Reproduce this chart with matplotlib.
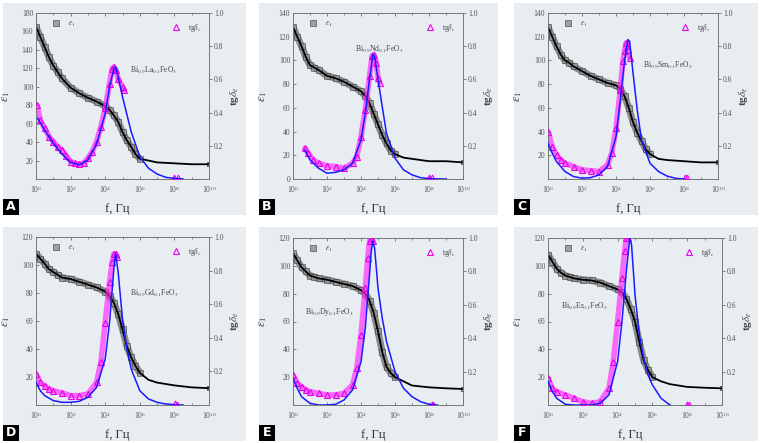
import numpy as np
import matplotlib.pyplot as plt
from matplotlib.patches import Rectangle
from matplotlib.lines import Line2D

plt.rcParams['font.family'] = ['Liberation Serif', 'DejaVu Serif']
plt.rcParams['mathtext.fontset'] = 'stix'

# ---------------- data (log10 of frequency, Hz) ----------------
LOGF_EPS = [0, 0.25, 0.5, 0.75, 1, 1.25, 1.5, 2, 2.5, 3, 3.5, 4, 4.25, 4.5,
            4.75, 5, 5.25, 5.5, 5.75, 6, 6.5, 7, 8, 9, 10]

EPS_A = [165, 154, 143, 132, 123, 116, 109, 99, 93, 88, 84, 79, 75, 69,
         62, 51, 42, 35, 27, 22, 20, 18, 17, 16, 16]
EPS_B = [128, 120, 112, 103, 96, 94, 92, 87, 85, 82, 78, 74, 70, 64,
         55, 46, 37, 30, 24, 21, 18, 17, 15, 15, 14]
EPS_C = [128, 120, 112, 105, 100, 98, 95, 91, 87, 84, 81, 79, 76, 70,
         60, 48, 39, 32, 25, 21, 17, 16, 15, 14, 14]
EPS_D = [108, 104.5, 101, 97, 95, 93, 91, 90, 88, 86, 84, 81, 78, 73,
         65, 54, 42, 34, 28, 23, 18, 16, 14, 12.6, 12]
EPS_E = [109, 104, 99, 96, 93, 92, 91, 90, 88.5, 87, 85.5, 82.5, 80, 75,
         66, 53, 38, 27.5, 23, 20, 17, 14, 12.7, 12, 11.5]
EPS_F = [108, 103, 98, 95, 93, 92, 91, 90, 89.5, 88, 85.5, 83, 81, 76.5,
         69, 60, 45, 32, 25, 20, 17, 15, 13, 12.4, 12]

# measured tg(delta)
TG_LOGF_A = [0.05, 0.25, 0.5, 0.75, 1, 1.25, 1.5, 1.75, 2, 2.25, 2.5, 2.75, 3,
             3.25, 3.5, 3.75, 4, 4.25, 4.4, 4.5, 4.6, 4.75, 5, 5.1]
TG_A = [0.445, 0.355, 0.305, 0.255, 0.225, 0.195, 0.175, 0.14, 0.105, 0.095,
        0.09, 0.095, 0.125, 0.165, 0.225, 0.315, 0.425, 0.575, 0.665, 0.675,
        0.655, 0.605, 0.555, 0.535]
TG_LOGF_B = [0.7, 0.9, 1.2, 1.5, 2, 2.5, 3, 3.5, 3.75, 4, 4.25, 4.5, 4.65,
             4.75, 4.9, 5, 5.1]
TG_B = [0.185, 0.155, 0.115, 0.095, 0.08, 0.075, 0.065, 0.095, 0.135, 0.255,
        0.415, 0.62, 0.74, 0.75, 0.7, 0.61, 0.58]
TG_LOGF_C = [0, 0.25, 0.5, 0.75, 1, 1.5, 2, 2.5, 3, 3.5, 3.75, 4, 4.25, 4.4,
             4.5, 4.6, 4.7, 4.8]
TG_C = [0.285, 0.195, 0.145, 0.115, 0.095, 0.075, 0.055, 0.05, 0.045, 0.085,
        0.155, 0.305, 0.535, 0.71, 0.77, 0.82, 0.78, 0.73]
TG_LOGF_D = [0, 0.25, 0.5, 0.75, 1, 1.5, 2, 2.5, 3, 3.5, 3.75, 4, 4.25, 4.4,
             4.5, 4.6, 4.7]
TG_D = [0.185, 0.135, 0.115, 0.095, 0.085, 0.072, 0.056, 0.056, 0.066, 0.135,
        0.255, 0.49, 0.73, 0.85, 0.9, 0.9, 0.88]
TG_LOGF_E = [0, 0.25, 0.5, 0.75, 1, 1.5, 2, 2.5, 3, 3.5, 3.75, 4, 4.25, 4.4,
             4.5, 4.6, 4.7]
TG_E = [0.18, 0.13, 0.11, 0.09, 0.08, 0.07, 0.06, 0.06, 0.07, 0.12, 0.22,
        0.42, 0.70, 0.88, 0.98, 1.0, 0.98]
TG_LOGF_F = [0, 0.25, 0.5, 1, 1.5, 2, 2.5, 3, 3.5, 3.75, 4, 4.25, 4.4, 4.5, 4.6]
TG_F = [0.16, 0.1, 0.08, 0.06, 0.04, 0.02, 0.01, 0.02, 0.1, 0.26, 0.5, 0.76,
        0.92, 1.0, 1.0]

# stray high-frequency tg(delta) points
TAIL_LOGF = {'A': [8.0, 8.2], 'B': [8.0, 8.15], 'C': [8.05, 8.15],
             'D': [8.05, 8.15], 'E': [8.15, 8.25], 'F': [8.0, 8.1]}
TAIL_TG = {'A': [0.014, 0.012], 'B': [0.015, 0.012], 'C': [0.015, 0.01],
           'D': [0.01, 0.008], 'E': [0.004, 0.003], 'F': [0.004, 0.003]}

# fitted tg(delta) (blue line)
FIT_LOGF_A = [0.1, 0.5, 1, 1.5, 2, 2.5, 3, 3.5, 4, 4.25, 4.5, 4.6, 4.75, 5,
              5.5, 6, 6.5, 7, 7.5, 8, 8.5]
FIT_A = [0.365, 0.295, 0.215, 0.15, 0.1, 0.085, 0.115, 0.21, 0.395, 0.555,
         0.665, 0.675, 0.615, 0.495, 0.285, 0.135, 0.065, 0.03, 0.01, 0.004, 0]
FIT_LOGF_B = [0.7, 1, 1.5, 2, 2.5, 3, 3.5, 4, 4.25, 4.5, 4.7, 4.8, 5, 5.25,
              5.5, 6, 6.5, 7, 7.5, 8, 9]
FIT_B = [0.175, 0.115, 0.065, 0.035, 0.04, 0.055, 0.095, 0.235, 0.395, 0.6,
         0.75, 0.74, 0.6, 0.435, 0.275, 0.125, 0.055, 0.025, 0.008, 0.002, 0]
FIT_LOGF_C = [0, 0.25, 0.5, 1, 1.5, 2, 2.5, 3, 3.5, 4, 4.25, 4.5, 4.7, 4.8,
              5, 5.25, 5.5, 6, 6.5, 7, 7.5, 8]
FIT_C = [0.215, 0.155, 0.105, 0.045, 0.015, 0.005, 0.008, 0.025, 0.075,
         0.255, 0.475, 0.71, 0.84, 0.83, 0.64, 0.415, 0.235, 0.095, 0.045,
         0.018, 0.004, 0]
FIT_LOGF_D = [0, 0.25, 0.5, 1, 1.5, 2, 2.5, 3, 3.5, 4, 4.25, 4.5, 4.6, 4.75,
              5, 5.25, 5.5, 6, 6.5, 7, 7.5, 8, 8.5]
FIT_D = [0.135, 0.085, 0.056, 0.026, 0.016, 0.016, 0.022, 0.046, 0.105,
         0.275, 0.49, 0.81, 0.9, 0.79, 0.51, 0.335, 0.215, 0.085, 0.036,
         0.016, 0.006, 0.002, 0]
FIT_LOGF_E = [0, 0.25, 0.5, 1, 1.5, 2, 2.5, 3, 3.5, 4, 4.25, 4.5, 4.6, 4.7,
              4.8, 5, 5.25, 5.5, 6, 6.5, 7, 7.5, 8, 8.5]
FIT_E = [0.16, 0.1, 0.05, 0.01, 0, 0, 0.004, 0.03, 0.09, 0.26, 0.46, 0.78,
         0.92, 0.98, 0.94, 0.7, 0.52, 0.38, 0.2, 0.1, 0.05, 0.02, 0.004, 0]
FIT_LOGF_F = [0, 0.25, 0.5, 1, 1.5, 2.5, 3, 3.5, 4, 4.25, 4.5, 4.7, 4.8, 5,
              5.25, 5.5, 5.75, 6, 6.5, 7]
FIT_F = [0.14, 0.08, 0.04, 0.004, 0, 0, 0.01, 0.06, 0.26, 0.5, 0.8, 1.0, 0.96,
         0.66, 0.42, 0.28, 0.18, 0.12, 0.04, 0]

LETTERS = ['A', 'B', 'C', 'D', 'E', 'F']
SAMPLES = [r'Bi$_{0.9}$La$_{0.1}$FeO$_3$', r'Bi$_{0.9}$Nd$_{0.1}$FeO$_3$',
           r'Bi$_{0.9}$Sm$_{0.1}$FeO$_3$', r'Bi$_{0.9}$Gd$_{0.1}$FeO$_3$',
           r'Bi$_{0.9}$Dy$_{0.1}$FeO$_3$', r'Bi$_{0.9}$Er$_{0.1}$FeO$_3$']
EPS_MAX = [180, 140, 140, 120, 120, 120]
EPS_TICK_START = [20, 0, 20, 20, 20, 20]

# ---------------- layout (pixels) ----------------
W, H = 761, 443
BG = '#e8edf2'
PANEL_PX = [(3, 3, 246, 215), (259, 3, 498, 215), (514, 3, 758, 215),
            (3, 227, 246, 441), (259, 227, 498, 441), (514, 227, 758, 441)]
AXES_PX = [(36, 13, 209, 179), (293, 13, 463, 179), (548, 13, 718, 179),
           (36, 237, 209, 405), (293, 238, 463, 405), (548, 238, 722, 405)]
# sample label anchor: (log f, eps, ha)
SAMPLE_POS = [(5.42, 118, 'left'), (5.1, 109, 'center'), (5.6, 96, 'left'),
              (5.45, 80, 'left'), (0.7, 67, 'left'), (0.73, 71, 'left')]


def px_rect(l, t, r, b):
    return [l / W, 1 - b / H, (r - l) / W, (b - t) / H]


eps_all = [EPS_A, EPS_B, EPS_C, EPS_D, EPS_E, EPS_F]
tg_all = [(TG_LOGF_A, TG_A), (TG_LOGF_B, TG_B), (TG_LOGF_C, TG_C),
          (TG_LOGF_D, TG_D), (TG_LOGF_E, TG_E), (TG_LOGF_F, TG_F)]
fit_all = [(FIT_LOGF_A, FIT_A), (FIT_LOGF_B, FIT_B), (FIT_LOGF_C, FIT_C),
           (FIT_LOGF_D, FIT_D), (FIT_LOGF_E, FIT_E), (FIT_LOGF_F, FIT_F)]

fig = plt.figure(figsize=(W / 100, H / 100), dpi=100)
fig.patch.set_facecolor('white')

tick_col = '#555555'
f_eps = 10.0 ** np.array(LOGF_EPS)

for i, letter in enumerate(LETTERS):
    l, t, r, b = PANEL_PX[i]
    fig.patches.append(Rectangle((l / W, 1 - b / H), (r - l) / W, (b - t) / H,
                                 transform=fig.transFigure, facecolor=BG,
                                 edgecolor='none', zorder=-5))
    # letter box
    fig.patches.append(Rectangle((l / W, 1 - b / H), 16 / W, 16 / H,
                                 transform=fig.transFigure, facecolor='black',
                                 edgecolor='none', zorder=5))
    fig.text((l + 8) / W, 1 - (b - 8) / H, letter, color='white',
             fontsize=9, fontweight='bold', family='DejaVu Sans',
             ha='center', va='center', zorder=6)

    ax = fig.add_axes(px_rect(*AXES_PX[i]))
    ax.set_facecolor(BG)
    ax2 = ax.twinx()

    eps = np.array(eps_all[i])
    dense = np.array(LOGF_EPS) <= 6.25
    ax.plot(f_eps[dense], eps[dense], color='#4a4a4a', lw=5, alpha=0.6,
            solid_capstyle='round', zorder=2)
    ax.plot(f_eps[dense], eps[dense], 's', ms=3.8, mfc='#9a9a9a', mec='#2a2a2a',
            mew=0.5, alpha=0.7, zorder=3)
    ax.plot(f_eps[-1:], eps[-1:], 's', ms=3.5, mfc='#a0a0a0', mec='#333333',
            mew=0.5, zorder=3)
    ax.plot(f_eps, eps, color='black', lw=1.3, zorder=4)

    tl, tv = tg_all[i]
    ft = 10.0 ** np.array(tl)
    ax2.plot(ft, tv, color='#ff22ff', lw=4, alpha=0.65,
             solid_capstyle='round', zorder=2)
    ax2.plot(ft, tv, '^', ms=4, mfc='none', mec='#e600e6', mew=0.8, zorder=3)
    ax2.plot(10.0 ** np.array(TAIL_LOGF[letter]), TAIL_TG[letter], '^', ms=3.5,
             mfc='none', mec='#ee00ee', mew=0.8, zorder=3)
    fl, fv = fit_all[i]
    ax2.plot(10.0 ** np.array(fl), fv, color='#1a1aff', lw=1.1, zorder=4)

    ax.set_xscale('log')
    ax.set_xlim(1, 1e10)
    ax.set_ylim(0, EPS_MAX[i])
    ax2.set_ylim(0, 1.0)
    ax.set_xticks(10.0 ** np.arange(0, 11, 2))
    ax.set_xticks(10.0 ** np.arange(1, 11, 2), minor=True)
    ax.xaxis.set_minor_formatter(plt.NullFormatter())
    ax.set_yticks(np.arange(EPS_TICK_START[i], EPS_MAX[i] + 1, 20))
    ax2.set_yticks([0.2, 0.4, 0.6, 0.8, 1.0])
    ax2.set_yticklabels(['0.2', '0.4', '0.6', '0.8', '1.0'])

    ax.tick_params(axis='both', which='both', direction='in', top=True,
                   labelsize=5.5, colors=tick_col, length=2.5, width=0.5,
                   pad=2)
    ax.tick_params(axis='x', which='major', pad=3.5)
    ax.tick_params(which='minor', length=1.5)
    ax2.tick_params(axis='y', direction='out', labelsize=5.5, colors=tick_col,
                    length=2, width=0.5, pad=1.5)
    for a in (ax, ax2):
        for s in a.spines.values():
            s.set_color('#777777')
            s.set_linewidth(0.6)

    ax.set_xlabel('f, Гц', fontsize=9, color='#333333')
    ax.xaxis.set_label_coords(0.47, -0.145)
    ax.set_ylabel(r'$\varepsilon_1$', fontsize=9, color='#444444')
    ax.yaxis.set_label_coords(-0.14, 0.5)
    ax2.set_ylabel(r'tg$\delta_\varepsilon$', fontsize=8, color='#444444',
                   fontweight='bold')
    ax2.yaxis.set_label_coords(1.11, 0.5)

    sx, sy, sha = SAMPLE_POS[i]
    ax.text(10 ** sx, sy, SAMPLES[i], fontsize=5.5, color='#444444',
            ha=sha, va='center', zorder=6)

    h1 = Line2D([], [], marker='s', ls='none', ms=4, mfc='#a0a0a0',
                mec='#555555', mew=0.5)
    h2 = Line2D([], [], marker='^', ls='none', ms=4.5, mfc='none',
                mec='#ee00ee', mew=0.8)
    ax.legend([h1], [r'$\varepsilon_1$'], loc='upper left',
              bbox_to_anchor=(0.03, 1.0), frameon=False, fontsize=5.5,
              handletextpad=0.6, labelcolor='#444444')
    ax2.legend([h2], [r'tg$\delta_\varepsilon$'], loc='upper right',
               bbox_to_anchor=(1.0, 0.99), frameon=False, fontsize=5.5,
               handletextpad=0.6, labelcolor='#444444')

fig.savefig('out.png', dpi=100)
